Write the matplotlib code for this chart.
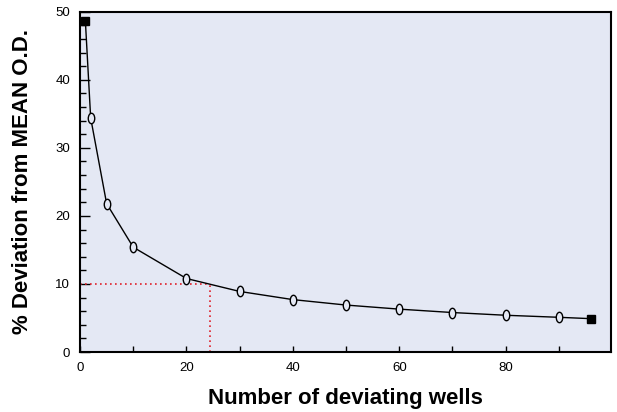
import numpy as np
import matplotlib
matplotlib.use("Agg")
import matplotlib.pyplot as plt
from matplotlib.path import Path
from matplotlib.ticker import MultipleLocator

# ---------- data ----------
wells = [1, 2, 5, 10, 20, 30, 40, 50, 60, 70, 80, 90, 96]
deviation = [48.7, 34.4, 21.8, 15.4, 10.8, 8.9, 7.7, 6.9, 6.3, 5.8, 5.4, 5.1, 4.9]
cutoff_dev = 10
cutoff_wells = 24.5

bg = "#e4e8f4"
plt.rcParams['font.family'] = ['Liberation Sans', 'DejaVu Sans']

# tall ellipse marker (looks like a "0")
circ = Path.unit_circle()
ellipse = Path(circ.vertices * np.array([0.62, 1.0]), circ.codes)

fig = plt.figure(figsize=(6.17, 4.12), dpi=100)
ax = fig.add_axes([0.1297, 0.1456, 0.8606, 0.826])
ax.set_facecolor(bg)

# ---------- curve ----------
ax.plot(wells, deviation, color='black', lw=1.0, zorder=3)
ax.plot(wells[1:-1], deviation[1:-1], ls='none', marker=ellipse, ms=7.5,
        mfc=bg, mec='black', mew=1.0, zorder=4)
ax.plot([wells[0], wells[-1]], [deviation[0], deviation[-1]], ls='none',
        marker='s', ms=6, color='black', zorder=5)

# ---------- cutoff guide ----------
ax.plot([0, cutoff_wells], [cutoff_dev, cutoff_dev], color='#e0202a',
        ls=(0, (1, 2)), lw=1.2, zorder=2)
ax.plot([cutoff_wells, cutoff_wells], [0, cutoff_dev], color='#e0202a',
        ls=(0, (1, 2)), lw=1.2, zorder=2)

# ---------- axes ----------
ax.set_xlim(0, 99.8)
ax.set_ylim(0, 50)
ax.xaxis.set_major_locator(MultipleLocator(20))
ax.xaxis.set_minor_locator(MultipleLocator(10))
ax.yaxis.set_major_locator(MultipleLocator(10))
ax.yaxis.set_minor_locator(MultipleLocator(2))
ax.tick_params(axis='x', which='both', direction='in', length=4, width=1,
               labelsize=9.5, pad=7)
ax.tick_params(axis='y', which='major', direction='in', length=7, width=1,
               labelsize=9.5, pad=7)
ax.tick_params(axis='y', which='minor', direction='in', length=4, width=1)
for s in ax.spines.values():
    s.set_linewidth(1.5)

ax.set_xlabel('Number of deviating wells', fontsize=16, fontweight='bold',
              labelpad=10)
ax.set_ylabel('% Deviation from MEAN O.D.', fontsize=16, fontweight='bold',
              labelpad=16)

plt.savefig('out.png', dpi=100)
